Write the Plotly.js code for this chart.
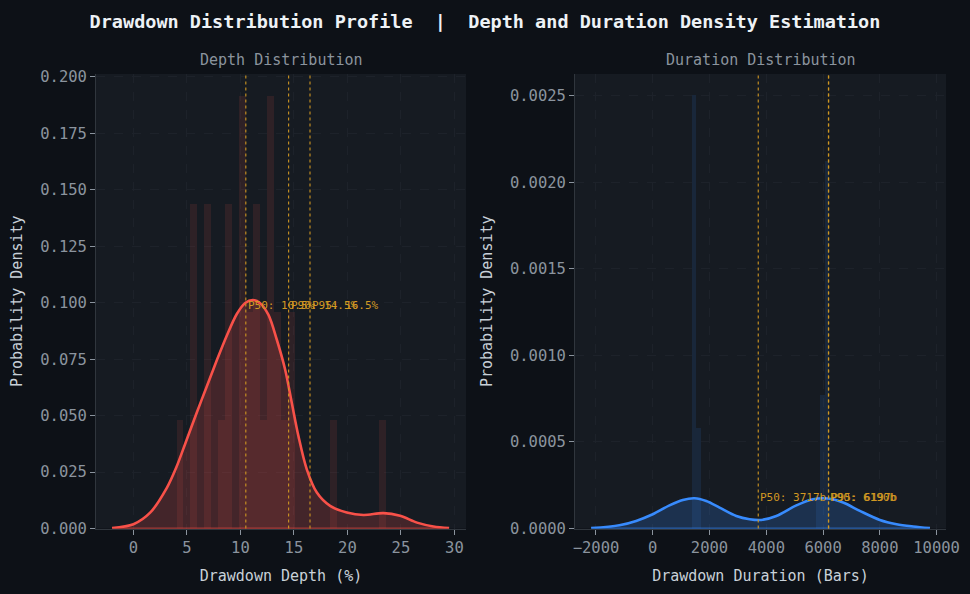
<!DOCTYPE html>
<html>
<head>
<meta charset="utf-8">
<script src="https://cdn.plot.ly/plotly-3.0.1.min.js"></script>
<style>
  html, body { margin: 0; padding: 0; background: #0d1117; }
  #chart { width: 970px; height: 594px; }
</style>
</head>
<body>
<div id="chart"></div>
<script>
// ---- Drawdown depth (%) ----
const depthBinCenters = [4.35, 5.65, 6.96, 8.27, 8.92, 10.22, 10.88, 11.53, 12.18, 12.84, 13.49, 14.14, 14.80, 18.71, 23.28];
const depthDensity    = [0.0479, 0.1436, 0.1436, 0.0479, 0.1436, 0.1914, 0.0957, 0.1436, 0.0479, 0.1914, 0.0957, 0.0479, 0.0957, 0.0479, 0.0479];
const depthKdeX = [-2.0, 0.0, 1.56, 3.12, 4.0, 4.95, 5.93, 6.86, 7.79, 8.73, 9.66, 10.44, 11.16, 11.84, 12.62, 13.4, 14.18, 14.8, 15.42, 16.2, 17.14, 18.38, 19.94, 21.5, 23.36, 24.92, 26.5, 28.04, 29.5];
const depthKdeY = [0.0002, 0.0019, 0.0070, 0.0180, 0.0270, 0.0390, 0.0515, 0.0630, 0.0745, 0.0855, 0.0950, 0.0999, 0.1012, 0.0998, 0.0946, 0.0836, 0.0703, 0.0556, 0.0409, 0.0262, 0.0159, 0.0100, 0.0071, 0.0060, 0.0068, 0.0056, 0.0026, 0.0009, 0.0002];
const depthPctNames  = ['P50', 'P90', 'P95'];
const depthPctValues = [10.5, 14.5, 16.5];

// ---- Drawdown duration (bars) ----
const durBinCenters = [1447, 1609, 5821, 5983, 6145];
const durDensity    = [0.002508, 0.000579, 0.000193, 0.000772, 0.002122];
const durKdeX = [-2170, -1175, -586, 0, 589, 1059, 1471, 1884, 2354, 2942, 3412, 3825, 4354, 5060, 5647, 6176, 6706, 7295, 8001, 8590, 9177, 9766];
const durKdeY = [0.000002, 0.000019, 0.000044, 0.0000825, 0.000134, 0.000165, 0.000175, 0.000159, 0.000121, 0.0000727, 0.0000537, 0.0000496, 0.0000727, 0.000134, 0.000169, 0.000173, 0.000150, 0.000102, 0.0000496, 0.0000248, 0.0000115, 0.000002];
const durPctNames  = ['P50', 'P90', 'P95'];
const durPctValues = [3717, 6190, 6197];

// ---- styling ----
const FONT = 'DejaVu Sans Mono';
const RED = '#f85149';
const BLUE = '#388bfd';
const GOLD = '#d29922';
const depthBinWidth = 0.653;
const durBinWidth = 162;
const TICK_SIZE = 15.5;
const LABEL_SIZE = 15;

function densityPanel(xa, ya, centers, dens, binW, kx, ky, color, barFill, areaFill) {
  return [
    { type: 'bar', x: centers, y: dens, width: binW, xaxis: xa, yaxis: ya,
      marker: { color: barFill, line: { width: 0 } }, hoverinfo: 'skip' },
    { type: 'scatter', mode: 'lines', x: kx, y: ky, xaxis: xa, yaxis: ya,
      fill: 'tozeroy', fillcolor: areaFill,
      line: { color: color, width: 2.6, shape: 'spline', smoothing: 0.9 } },
    { type: 'scatter', mode: 'lines', x: [kx[0], kx[kx.length - 1]], y: [0, 0],
      xaxis: xa, yaxis: ya, line: { color: color, width: 1.6 } }
  ];
}

const traces = [
  ...densityPanel('x', 'y', depthBinCenters, depthDensity, depthBinWidth, depthKdeX, depthKdeY,
                  RED, 'rgba(248,81,73,0.11)', 'rgba(248,81,73,0.20)'),
  ...densityPanel('x2', 'y2', durBinCenters, durDensity, durBinWidth, durKdeX, durKdeY,
                  BLUE, 'rgba(56,139,253,0.11)', 'rgba(56,139,253,0.20)')
];

const shapes = [];
const annotations = [];
function percentiles(xa, ya, names, values, kdeY, fmt, shiftY) {
  const yText = 0.95 * Math.max(...kdeY);
  names.forEach((n, i) => {
    shapes.push({ type: 'line', xref: xa, yref: ya + ' domain', x0: values[i], x1: values[i], y0: 0, y1: 1,
                  line: { color: GOLD, width: 1.2, dash: 'dot' }, opacity: 0.9, layer: 'above' });
    annotations.push({ xref: xa, yref: ya, x: values[i], y: yText, text: n + ': ' + fmt(values[i]),
                       xanchor: 'left', yanchor: 'bottom', showarrow: false, yshift: shiftY,
                       font: { family: FONT, size: 11, color: GOLD } });
  });
}
percentiles('x', 'y', depthPctNames, depthPctValues, depthKdeY, v => v.toFixed(1) + '%', -3);
percentiles('x2', 'y2', durPctNames, durPctValues, durKdeY, v => v.toFixed(0) + 'b', -6);

annotations.push(
  { xref: 'paper', yref: 'paper', x: 281 / 970, y: 1 - 60 / 594, xanchor: 'center', yanchor: 'middle',
    text: 'Depth Distribution', showarrow: false, font: { family: FONT, size: LABEL_SIZE, color: '#8b949e' } },
  { xref: 'paper', yref: 'paper', x: 760.5 / 970, y: 1 - 60 / 594, xanchor: 'center', yanchor: 'middle',
    text: 'Duration Distribution', showarrow: false, font: { family: FONT, size: LABEL_SIZE, color: '#8b949e' } }
);

function axisStyle(extra) {
  return Object.assign({
    showline: true, linecolor: '#30363d', linewidth: 1, mirror: false,
    ticks: 'outside', ticklen: 5, tickwidth: 1, tickcolor: '#8b949e',
    tickfont: { family: FONT, size: TICK_SIZE, color: '#8b949e' },
    showgrid: true, gridcolor: '#1d222a', gridwidth: 1, griddash: 'dash',
    zeroline: false, automargin: false, fixedrange: true
  }, extra);
}

const yDomain = [(594 - 528.5) / 594, (594 - 74) / 594];

const layout = {
  width: 970, height: 594,
  paper_bgcolor: '#0d1117', plot_bgcolor: '#161b22',
  margin: { l: 0, r: 0, t: 0, b: 0 },
  showlegend: false,
  barmode: 'overlay', bargap: 0,
  font: { family: FONT, color: '#c9d1d9' },
  title: {
    text: 'Drawdown Distribution Profile\u00a0\u00a0|\u00a0\u00a0Depth and Duration Density Estimation',
    font: { family: FONT, size: 18.5, color: '#eef2f6', weight: 'bold' },
    x: 0.5, xanchor: 'center', xref: 'paper', y: 1 - 22 / 594, yanchor: 'middle', yref: 'container'
  },
  xaxis: axisStyle({ domain: [96 / 970, 466 / 970], range: [-3.5, 31.08], tick0: 0, dtick: 5, anchor: 'y',
    title: { text: 'Drawdown Depth (%)', standoff: 13.5, font: { family: FONT, size: LABEL_SIZE, color: '#c9d1d9' } } }),
  yaxis: axisStyle({ domain: yDomain, range: [0, 0.2013], tick0: 0, dtick: 0.025, tickformat: '.3f', anchor: 'x',
    title: { text: 'Probability Density', standoff: 13, font: { family: FONT, size: LABEL_SIZE, color: '#c9d1d9' } } }),
  xaxis2: axisStyle({ domain: [575 / 970, 946 / 970], range: [-2739, 10331], tick0: 0, dtick: 2000, anchor: 'y2',
    tickformat: 'd',
    title: { text: 'Drawdown Duration (Bars)', standoff: 13.5, font: { family: FONT, size: LABEL_SIZE, color: '#c9d1d9' } } }),
  yaxis2: axisStyle({ domain: yDomain, range: [0, 0.002627], tick0: 0, dtick: 0.0005, tickformat: '.4f', anchor: 'x2',
    title: { text: 'Probability Density', standoff: 13, font: { family: FONT, size: LABEL_SIZE, color: '#c9d1d9' } } }),
  shapes: shapes,
  annotations: annotations
};

Plotly.newPlot('chart', traces, layout, { displayModeBar: false, staticPlot: true });
</script>
</body>
</html>
